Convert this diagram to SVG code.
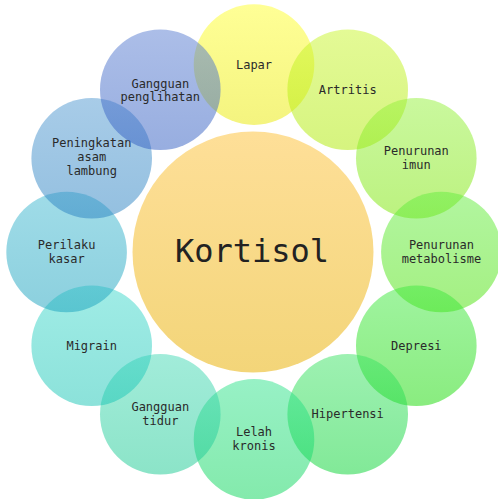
<svg xmlns="http://www.w3.org/2000/svg" width="498" height="499" viewBox="0 0 498 499">
  <style>
    .bubble { fill-opacity: 0.5; }
    .lbl { font-family: "DejaVu Sans Mono", "Liberation Mono", monospace; font-size: 12px; fill: #2a2a2a; text-anchor: middle; }
    .core { font-family: "DejaVu Sans Mono", "Liberation Mono", monospace; font-size: 32px; fill: #222222; text-anchor: middle; }
  </style>
  <defs>
    <linearGradient id="gCore" x1="0" y1="0" x2="0" y2="1"><stop offset="0" stop-color="#fedf98"/><stop offset="1" stop-color="#f3d579"/></linearGradient>
    <linearGradient id="g1" x1="0" y1="0" x2="0" y2="1"><stop offset="0" stop-color="#ffff2d"/><stop offset="1" stop-color="#e9e900"/></linearGradient>
    <linearGradient id="g2" x1="0" y1="0" x2="0" y2="1"><stop offset="0" stop-color="#c9f52d"/><stop offset="1" stop-color="#ade900"/></linearGradient>
    <linearGradient id="g3" x1="0" y1="0" x2="0" y2="1"><stop offset="0" stop-color="#95f13d"/><stop offset="1" stop-color="#79e500"/></linearGradient>
    <linearGradient id="g4" x1="0" y1="0" x2="0" y2="1"><stop offset="0" stop-color="#65ed41"/><stop offset="1" stop-color="#49e105"/></linearGradient>
    <linearGradient id="g5" x1="0" y1="0" x2="0" y2="1"><stop offset="0" stop-color="#41e941"/><stop offset="1" stop-color="#15d901"/></linearGradient>
    <linearGradient id="g6" x1="0" y1="0" x2="0" y2="1"><stop offset="0" stop-color="#3de365"/><stop offset="1" stop-color="#05d331"/></linearGradient>
    <linearGradient id="g7" x1="0" y1="0" x2="0" y2="1"><stop offset="0" stop-color="#31e38d"/><stop offset="1" stop-color="#09d559"/></linearGradient>
    <linearGradient id="g8" x1="0" y1="0" x2="0" y2="1"><stop offset="0" stop-color="#45d9b5"/><stop offset="1" stop-color="#19c991"/></linearGradient>
    <linearGradient id="g9" x1="0" y1="0" x2="0" y2="1"><stop offset="0" stop-color="#41d9cd"/><stop offset="1" stop-color="#19c5b5"/></linearGradient>
    <linearGradient id="g10" x1="0" y1="0" x2="0" y2="1"><stop offset="0" stop-color="#41b9d1"/><stop offset="1" stop-color="#19a1bd"/></linearGradient>
    <linearGradient id="g11" x1="0" y1="0" x2="0" y2="1"><stop offset="0" stop-color="#5199d1"/><stop offset="1" stop-color="#2981c1"/></linearGradient>
    <linearGradient id="g12" x1="0" y1="0" x2="0" y2="1"><stop offset="0" stop-color="#597dd1"/><stop offset="1" stop-color="#315dc1"/></linearGradient>
  </defs>

  <rect width="498" height="499" fill="#ffffff"/>

  <!-- central node -->
  <g id="kortisol">
    <circle cx="253" cy="252" r="120.5" fill="url(#gCore)"/>
    <text class="core" x="252" y="262">Kortisol</text>
  </g>

  <!-- surrounding nodes, ring radius 187.4 around (254,252) -->
  <g id="lapar" transform="translate(254,64.6)">
    <circle class="bubble" r="60.3" fill="url(#g1)"/>
    <text class="lbl" y="4">Lapar</text>
  </g>
  <g id="artritis" transform="translate(347.7,89.7)">
    <circle class="bubble" r="60.3" fill="url(#g2)"/>
    <text class="lbl" y="4">Artritis</text>
  </g>
  <g id="penurunan-imun" transform="translate(416.3,158.3)">
    <circle class="bubble" r="60.3" fill="url(#g3)"/>
    <text class="lbl" y="-3">Penurunan</text>
    <text class="lbl" y="10.5">imun</text>
  </g>
  <g id="penurunan-metabolisme" transform="translate(441.4,252)">
    <circle class="bubble" r="60.3" fill="url(#g4)"/>
    <text class="lbl" y="-3">Penurunan</text>
    <text class="lbl" y="10.5">metabolisme</text>
  </g>
  <g id="depresi" transform="translate(416.3,345.7)">
    <circle class="bubble" r="60.3" fill="url(#g5)"/>
    <text class="lbl" y="4">Depresi</text>
  </g>
  <g id="hipertensi" transform="translate(347.7,414.3)">
    <circle class="bubble" r="60.3" fill="url(#g6)"/>
    <text class="lbl" y="4">Hipertensi</text>
  </g>
  <g id="lelah-kronis" transform="translate(254,439.4)">
    <circle class="bubble" r="60.3" fill="url(#g7)"/>
    <text class="lbl" y="-3">Lelah</text>
    <text class="lbl" y="10.5">kronis</text>
  </g>
  <g id="gangguan-tidur" transform="translate(160.3,414.3)">
    <circle class="bubble" r="60.3" fill="url(#g8)"/>
    <text class="lbl" y="-3">Gangguan</text>
    <text class="lbl" y="10.5">tidur</text>
  </g>
  <g id="migrain" transform="translate(91.7,345.7)">
    <circle class="bubble" r="60.3" fill="url(#g9)"/>
    <text class="lbl" y="4">Migrain</text>
  </g>
  <g id="perilaku-kasar" transform="translate(66.6,252)">
    <circle class="bubble" r="60.3" fill="url(#g10)"/>
    <text class="lbl" y="-3">Perilaku</text>
    <text class="lbl" y="10.5">kasar</text>
  </g>
  <g id="peningkatan-asam-lambung" transform="translate(91.7,158.3)">
    <circle class="bubble" r="60.3" fill="url(#g11)"/>
    <text class="lbl" y="-11.5">Peningkatan</text>
    <text class="lbl" y="2.5">asam</text>
    <text class="lbl" y="16.5">lambung</text>
  </g>
  <g id="gangguan-penglihatan" transform="translate(160.3,89.7)">
    <circle class="bubble" r="60.3" fill="url(#g12)"/>
    <text class="lbl" y="-2">Gangguan</text>
    <text class="lbl" y="11">penglihatan</text>
  </g>

  <!-- no connectors: nodes touch and overlap directly -->
  <g id="connectors"/>
</svg>
